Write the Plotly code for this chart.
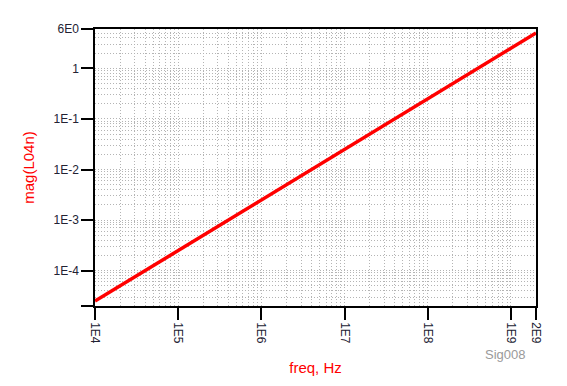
import plotly.graph_objects as go
import numpy as np

# data
freq = [1e4, 1e5, 1e6, 1e7, 1e8, 1e9, 2e9]
mag = [2.5e-5, 2.5e-4, 2.5e-3, 2.5e-2, 0.25, 2.5, 5.0]

x_tickvals = [1e4, 1e5, 1e6, 1e7, 1e8, 1e9, 2e9]
x_ticktext = ["1E4", "1E5", "1E6", "1E7", "1E8", "1E9", "2E9"]
y_tickvals = [6, 1, 1e-1, 1e-2, 1e-3, 1e-4, 2e-5]
y_ticktext = ["6E0", "1", "1E-1", "1E-2", "1E-3", "1E-4", ""]

x_minor = [m * 10**e for e in range(4, 10) for m in range(1, 10) if m * 10**e <= 2e9]
y_minor = [m * 10**e for e in range(-5, 1) for m in range(1, 10) if 2e-5 <= m * 10**e <= 6]

fig = go.Figure()
fig.add_trace(go.Scatter(x=freq, y=mag, mode="lines",
                         line=dict(color="#FF0000", width=3.5), showlegend=False))

axis_common = dict(showline=True, linecolor="black", linewidth=1.5, mirror=True,
                   ticks="outside", ticklen=12, tickwidth=1.5, tickcolor="black",
                   showgrid=False, zeroline=False,
                   tickfont=dict(family="Arial, Liberation Sans", size=12, color="#222233"))

fig.update_xaxes(type="log", range=[4, np.log10(2e9)],
                 tickvals=x_tickvals, ticktext=x_ticktext, tickangle=90,
                 minor=dict(tickvals=x_minor, showgrid=True, gridcolor="#b4b4b4",
                            griddash="1px,2px", gridwidth=1, ticks=""),
                 title=dict(text="freq, Hz", font=dict(family="Arial, Liberation Sans", size=15, color="#FF0000"), standoff=20),
                 **axis_common)
fig.update_yaxes(type="log", range=[np.log10(2e-5), np.log10(6)],
                 tickvals=y_tickvals, ticktext=y_ticktext,
                 minor=dict(tickvals=y_minor, showgrid=True, gridcolor="#b4b4b4",
                            griddash="1px,2px", gridwidth=1, ticks=""),
                 title=dict(text="mag(L04n)", font=dict(family="Arial, Liberation Sans", size=15, color="#FF0000"), standoff=15),
                 **axis_common)

fig.add_annotation(text="Sig008", xref="paper", yref="paper", x=0.93, y=-0.175,
                   xanchor="center", yanchor="middle", showarrow=False,
                   font=dict(family="Arial, Liberation Sans", size=13, color="#9a9a9a"))

fig.update_layout(width=559, height=378, paper_bgcolor="white", plot_bgcolor="white",
                  margin=dict(l=87, r=31, t=21, b=77))
fig.write_html("out.html")
